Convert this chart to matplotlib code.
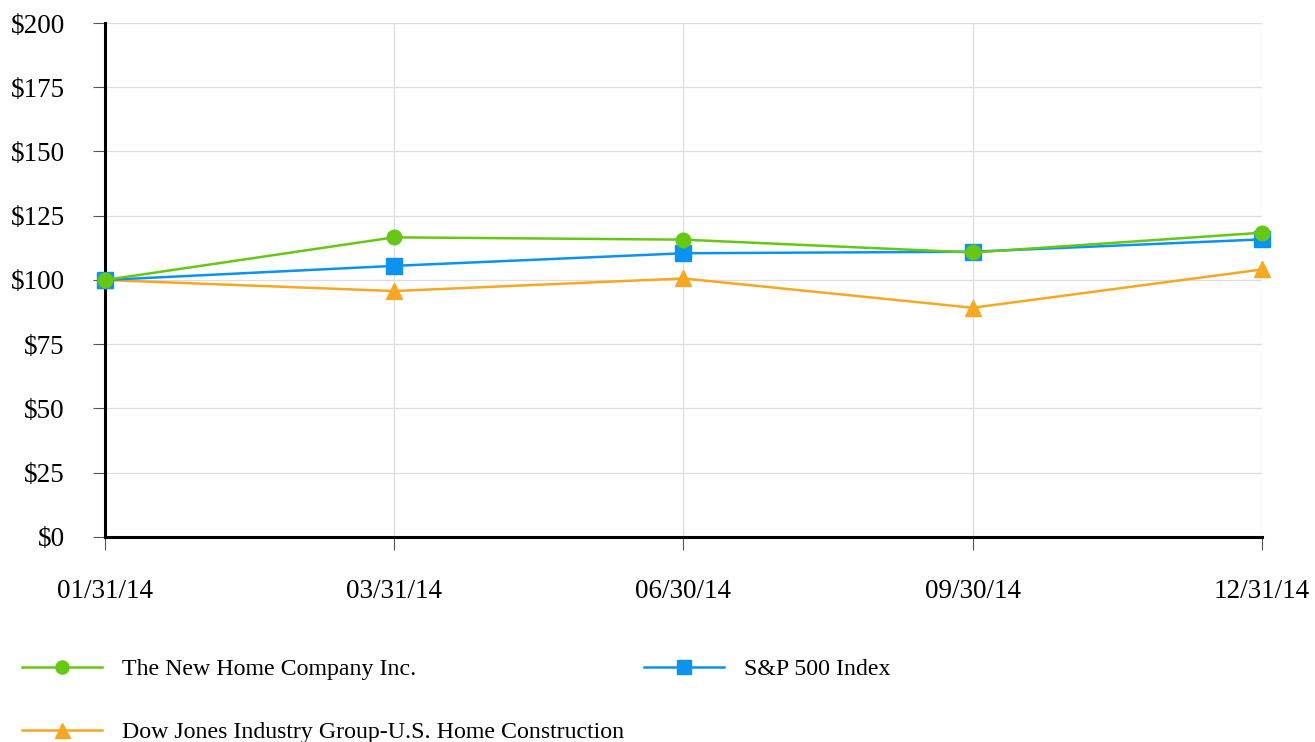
import matplotlib.pyplot as plt

dates = ["01/31/14", "03/31/14", "06/30/14", "09/30/14", "12/31/14"]
new_home = [100, 116.6, 115.7, 110.7, 118.4]
sp500 = [100, 105.5, 110.4, 111.0, 115.8]
dj_home = [100, 95.7, 100.6, 89.2, 104.1]
yticks = [0, 25, 50, 75, 100, 125, 150, 175, 200]

plt.rcParams['font.family'] = ['Liberation Serif', 'DejaVu Serif']

fig = plt.figure(figsize=(13.15, 7.42), dpi=100)
ax = fig.add_axes([0.0798, 0.2763, 0.8799, 0.6927])

x = list(range(len(dates)))
l3, = ax.plot(x, dj_home, color='#f7a823', lw=1.8, marker='^', ms=12,
              label='Dow Jones Industry Group-U.S. Home Construction', clip_on=False, zorder=3)
l2, = ax.plot(x, sp500, color='#0a93f0', lw=1.8, marker='s', ms=11.5,
              label='S&P 500 Index', clip_on=False, zorder=4)
l1, = ax.plot(x, new_home, color='#66c814', lw=1.8, marker='o', ms=10.5,
              label='The New Home Company Inc.', clip_on=False, zorder=5)

ax.set_xlim(0, 4)
ax.set_ylim(0, 200)
ax.set_xticks(x)
ax.set_xticklabels(dates)
ax.set_yticks(yticks)
ax.set_yticklabels([f"${v}" for v in yticks])

ax.grid(True, color='#dddddd', lw=0.9)
ax.set_axisbelow(True)
for s in ['top', 'right']:
    ax.spines[s].set_visible(False)
for s in ['left', 'bottom']:
    ax.spines[s].set_linewidth(2.2)
    ax.spines[s].set_color('black')

ax.tick_params(axis='y', length=9, width=0.8, color='#555555', pad=20, labelsize=19.5)
ax.tick_params(axis='x', length=9, width=0.8, color='#555555', pad=21, labelsize=19.5)

fig.legend(handles=[l1, l3, l2], loc='upper left', bbox_to_anchor=(0.0167, 0.113),
           ncol=2, frameon=False, fontsize=17.2, handlelength=3.35, handletextpad=0.84,
           labelspacing=1.75, columnspacing=0.84, borderaxespad=0, borderpad=0,
           markerscale=0.9)

fig.savefig('out.png', dpi=100)
